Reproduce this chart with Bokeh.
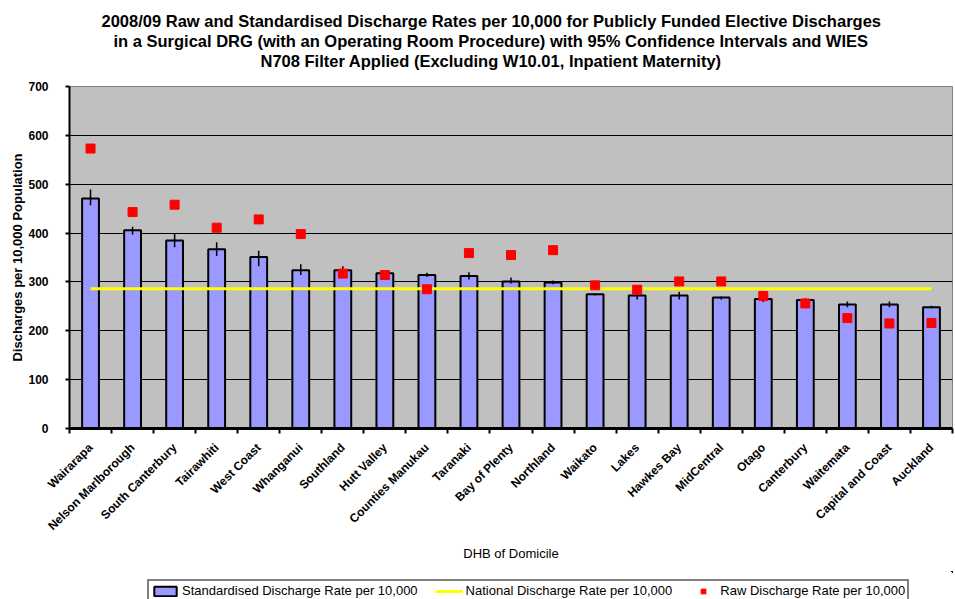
import math
import numpy as np
from bokeh.plotting import figure
from bokeh.layouts import column
from bokeh.models import (ColumnDataSource, FixedTicker, Legend, LegendItem,
                          Range1d, Title)
from bokeh.embed import file_html
from bokeh.resources import INLINE

dhbs = ["Wairarapa", "Nelson Marlborough", "South Canterbury", "Tairawhiti",
        "West Coast", "Whanganui", "Southland", "Hutt Valley",
        "Counties Manukau", "Taranaki", "Bay of Plenty", "Northland",
        "Waikato", "Lakes", "Hawkes Bay", "MidCentral", "Otago",
        "Canterbury", "Waitemata", "Capital and Coast", "Auckland"]
std_rate = [471, 406, 385, 367, 351, 324, 324, 318, 314, 312, 301, 299,
            275, 272, 272, 268, 265, 263, 254, 254, 248]
ci_low = [457, 397, 371, 353, 332, 314, 310, 312, 310, 305, 297, 295,
          272, 264, 264, 264, 259, 259, 248, 248, 246]
ci_high = [489, 413, 398, 381, 364, 336, 332, 322, 319, 320, 309, 303,
           277, 276, 280, 270, 271, 266, 260, 260, 251]
raw_rate = [573, 443, 458, 411, 428, 398, 317, 314, 285, 359, 355, 365,
            293, 284, 301, 301, 271, 256, 226, 215, 216]
national_rate = [286] * len(dhbs)
y_ticks = [0, 100, 200, 300, 400, 500, 600, 700]

n = len(dhbs)
xc = np.arange(n) + 0.5
src = ColumnDataSource(dict(x=xc, name=dhbs, std=std_rate, lo=ci_low,
                            hi=ci_high, raw=raw_rate, nat=national_rate))

FONT = "Liberation Sans"
BAR_STYLE = dict(width=0.4, bottom=0, fill_color="#9999FF",
                 line_color="black", line_width=2)
NAT_STYLE = dict(line_color="#FFFF00", line_width=3)
RAW_STYLE = dict(marker="square", size=9, fill_color="#FF0000",
                 line_color="#FF0000")

p = figure(width=955, height=571, output_backend="svg", toolbar_location=None,
           x_range=Range1d(0, n), y_range=Range1d(0, 700),
           min_border_left=69, min_border_right=3, min_border_top=86,
           min_border_bottom=143)

# spacer between the plot area and the title block
p.add_layout(Title(text=" ", text_font=FONT, text_font_size="12px",
                   standoff=1), "above")
title_lines = [
    ("N708 Filter Applied (Excluding W10.01, Inpatient Maternity)", 191),
    ("in a Surgical DRG (with an Operating Room Procedure) with 95% Confidence Intervals and WIES", 44),
    ("2008/09 Raw and Standardised Discharge Rates per 10,000 for Publicly Funded Elective Discharges", 32),
]
for t, off in title_lines:
    p.add_layout(Title(text=t, align="left", offset=off, text_font=FONT,
                       text_font_size="16.5px", text_font_style="bold",
                       text_color="black", standoff=0), "above")

p.background_fill_color = "#C0C0C0"
p.border_fill_color = "white"
p.outline_line_color = "#808080"
p.xgrid.grid_line_color = None
p.ygrid.grid_line_color = "black"
p.ygrid.grid_line_width = 1
p.ygrid.ticker = FixedTicker(ticks=y_ticks)

p.vbar(x="x", top="std", source=src, **BAR_STYLE)
p.segment(x0="x", y0="lo", x1="x", y1="hi", source=src, line_color="black",
          line_width=1.5)
p.line(x="x", y="nat", source=src, **NAT_STYLE)
p.scatter(x="x", y="raw", source=src, **RAW_STYLE)

# axes
p.yaxis.ticker = FixedTicker(ticks=y_ticks)
p.yaxis.axis_line_color = "black"
p.yaxis.axis_line_width = 2
p.yaxis.major_tick_out = 4
p.yaxis.major_tick_in = 0
p.yaxis.major_tick_line_width = 2
p.yaxis.minor_tick_line_color = None
p.yaxis.major_label_text_font = FONT
p.yaxis.major_label_text_font_size = "12px"
p.yaxis.major_label_text_font_style = "bold"
p.yaxis.major_label_text_color = "black"
p.yaxis.major_label_standoff = 17
p.yaxis.axis_label = "Discharges per 10,000 Population"
p.yaxis.axis_label_text_font = FONT
p.yaxis.axis_label_text_font_size = "13px"
p.yaxis.axis_label_text_font_style = "bold"
p.yaxis.axis_label_text_color = "black"
p.yaxis.axis_label_standoff = 0

p.xaxis.ticker = FixedTicker(ticks=list(xc), minor_ticks=list(range(n + 1)))
p.xaxis.major_label_overrides = {float(x): nm for x, nm in zip(xc, dhbs)}
p.xaxis.major_label_orientation = math.pi / 4
p.xaxis.major_tick_out = 0
p.xaxis.major_tick_in = 0
p.xaxis.minor_tick_out = 5
p.xaxis.minor_tick_in = 0
p.xaxis.minor_tick_line_width = 2
p.xaxis.minor_tick_line_color = "black"
p.xaxis.axis_line_color = "black"
p.xaxis.axis_line_width = 3
p.xaxis.major_label_text_font = FONT
p.xaxis.major_label_text_font_size = "12px"
p.xaxis.major_label_text_font_style = "bold"
p.xaxis.major_label_text_color = "black"
p.xaxis.major_label_standoff = 12
p.xaxis.axis_label = "DHB of Domicile"
p.xaxis.axis_label_text_font = FONT
p.xaxis.axis_label_text_font_size = "13px"
p.xaxis.axis_label_text_font_style = "normal"
p.xaxis.axis_label_text_color = "black"
p.xaxis.axis_label_standoff = 5

# legend strip: the same series, with ranges chosen so that only the key shows
pl = figure(width=955, height=28, output_backend="svg", toolbar_location=None,
            x_range=Range1d(-3000, -2000), y_range=Range1d(-30000, -20000),
            x_axis_location=None, y_axis_location=None,
            min_border_left=0, min_border_right=0, min_border_top=0,
            min_border_bottom=0)
pl.outline_line_color = None
pl.grid.grid_line_color = None
pl.background_fill_color = "white"
lb = pl.vbar(x="x", top="std", source=src, **BAR_STYLE)
ln = pl.line(x="x", y="nat", source=src, **NAT_STYLE)
lr = pl.scatter(x="x", y="raw", source=src, **RAW_STYLE)

legend = Legend(items=[
    LegendItem(label="Standardised Discharge Rate per 10,000", renderers=[lb]),
    LegendItem(label="National Discharge Rate per 10,000", renderers=[ln]),
    LegendItem(label="Raw Discharge Rate per 10,000", renderers=[lr]),
], orientation="horizontal", location=(78, -3),
    label_text_font=FONT, label_text_font_size="13px",
    label_text_color="black", border_line_color="black", border_line_width=2,
    background_fill_alpha=1, padding=2, spacing=17, margin=0,
    glyph_width=28, glyph_height=12, label_standoff=3, label_height=13)
pl.add_layout(legend, "center")

layout = column(p, pl, spacing=0)
open("out.html", "w").write(file_html(layout, INLINE))
